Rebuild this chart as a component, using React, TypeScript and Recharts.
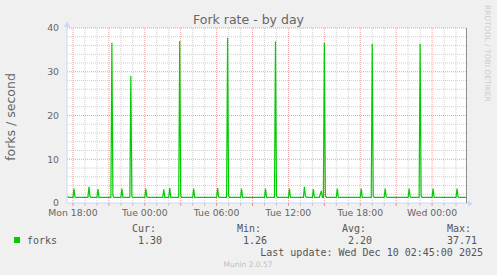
import React from "react";
import { LineChart, Line, XAxis, YAxis, CartesianGrid, ReferenceLine } from "recharts";

// time in minutes since Mon 00:00
const sampleMinutes = [
  1050, 1060, 1080, 1085, 1090, 1095, 1155, 1160, 1165, 1170, 1200, 1205, 1210,
  1270, 1275, 1280, 1285, 1320, 1325, 1330, 1365, 1370, 1375, 1380, 1440, 1445,
  1450, 1455, 1530, 1535, 1540, 1560, 1565, 1570, 1610, 1615, 1620, 1625, 1680,
  1685, 1690, 1800, 1805, 1810, 1815, 1850, 1855, 1860, 1865, 1920, 1925, 1930,
  2040, 2045, 2050, 2090, 2095, 2100, 2105, 2160, 2165, 2170, 2235, 2240, 2245,
  2250, 2280, 2285, 2290, 2315, 2320, 2325, 2330, 2335, 2340, 2345, 2350, 2400,
  2405, 2410, 2520, 2525, 2530, 2575, 2580, 2585, 2590, 2640, 2645, 2650, 2655,
  2760, 2765, 2770, 2775, 2815, 2820, 2825, 2830, 2880, 2885, 2890, 3000, 3005,
  3010, 3015, 3050,
];
const forkValues = [
  1.45, 1.3, 1.3, 3.3, 1.35, 1.3, 1.3, 3.7, 1.5, 1.3, 1.3, 3.2, 1.3,
  1.3, 36.6, 1.7, 1.3, 1.3, 3.3, 1.3, 1.3, 29.1, 1.6, 1.3, 1.3, 3.3,
  1.4, 1.3, 1.3, 3.1, 1.3, 1.3, 3.4, 1.3, 1.3, 37.0, 1.7, 1.3, 1.3,
  3.3, 1.3, 1.3, 3.4, 1.4, 1.3, 1.3, 37.7, 1.7, 1.3, 1.3, 3.3, 1.3,
  1.3, 3.3, 1.3, 1.3, 36.9, 1.7, 1.3, 1.3, 3.3, 1.3, 1.3, 3.7, 1.6,
  1.3, 1.3, 3.2, 1.3, 1.3, 2.0, 2.8, 1.3, 1.3, 36.6, 1.7, 1.3, 1.3,
  3.3, 1.3, 1.3, 3.3, 1.3, 1.3, 36.4, 1.7, 1.3, 1.3, 3.3, 1.4, 1.3,
  1.3, 3.3, 1.4, 1.3, 1.3, 36.4, 1.7, 1.3, 1.3, 3.3, 1.3, 1.3, 3.3,
  1.4, 1.3, 1.3,
];

const xLabelTicks = [1080, 1440, 1800, 2160, 2520, 2880];
const xLabelNames = ["Mon 18:00", "Tue 00:00", "Tue 06:00", "Tue 12:00", "Tue 18:00", "Wed 00:00"];
const majorXTicks = [1080, 1260, 1440, 1620, 1800, 1980, 2160, 2340, 2520, 2700, 2880];
const minorXTicks = [
  1080, 1140, 1200, 1260, 1320, 1380, 1440, 1500, 1560, 1620, 1680, 1740, 1800,
  1860, 1920, 1980, 2040, 2100, 2160, 2220, 2280, 2340, 2400, 2460, 2520, 2580,
  2640, 2700, 2760, 2820, 2880, 2940, 3000,
];
const yTicks = [0, 10, 20, 30, 40];
const minorYTicks = [2, 4, 6, 8, 12, 14, 16, 18, 22, 24, 26, 28, 32, 34, 36, 38];

const seriesName = "forks";
const statLabels = ["Cur:", "Min:", "Avg:", "Max:"];
const statValues = ["1.30", "1.26", "2.20", "37.71"];
const titleText = "Fork rate - by day";
const yAxisLabel = "forks / second";
const lastUpdate = "Last update: Wed Dec 10 02:45:00 2025";
const footer = "Munin 2.0.57";
const watermark = "RRDTOOL / TOBI OETIKER";

const data = sampleMinutes.map((t, i) => ({ t, forks: forkValues[i] }));

const SANS = "'DejaVu Sans', sans-serif";
const MONO = "'DejaVu Sans Mono', monospace";
const GREEN = "#00cc00";
const AXIS = "#CFD6F8";
const FONT = "#666666";
const MINOR = "#d0d0d0";
const MAJOR = "#e6a0a0";

const statX = [132, 237, 342, 447];
const valX = [138, 243, 348, 447];

export default function App() {
  return (
    <div style={{ position: "absolute", left: 0, top: 0, width: 497, height: 275, background: "#f0f0f0" }}>
      <LineChart width={497} height={275} data={data} margin={{ top: 28, right: 31, bottom: 42, left: 0 }}>
        <CartesianGrid fill="#ffffff" stroke="none" horizontal={false} vertical={false} />
        <XAxis
          dataKey="t"
          type="number"
          domain={[1050, 3050]}
          ticks={xLabelTicks}
          tickFormatter={(v: number) => xLabelNames[xLabelTicks.indexOf(v)] ?? ""}
          height={30}
          tickSize={0}
          tickMargin={6.4}
          tickLine={false}
          axisLine={{ stroke: AXIS }}
          tick={{ fontSize: 9.3, fill: FONT, fontFamily: SANS }}
          allowDataOverflow
        />
        <YAxis
          type="number"
          domain={[0, 40]}
          ticks={yTicks}
          width={67}
          tickSize={0}
          tickMargin={8}
          tickLine={false}
          axisLine={{ stroke: AXIS }}
          tick={{ fontSize: 9.3, fill: FONT, fontFamily: SANS }}
          allowDataOverflow
        />
        {minorXTicks
          .filter((m) => !majorXTicks.includes(m))
          .map((m) => (
            <ReferenceLine key={"gx" + m} x={m} stroke={MINOR} strokeDasharray="1 1" />
          ))}
        {minorYTicks.map((v) => (
          <ReferenceLine key={"gy" + v} y={v} stroke={MINOR} strokeDasharray="1 1" />
        ))}
        {majorXTicks.map((m) => (
          <ReferenceLine key={"Mx" + m} x={m} stroke={MAJOR} strokeDasharray="1 1" />
        ))}
        {yTicks
          .filter((v) => v > 0)
          .map((v) => (
            <ReferenceLine key={"My" + v} y={v} stroke={MAJOR} strokeDasharray="1 1" />
          ))}
        {minorXTicks.map((m) => (
          <ReferenceLine
            key={"mt" + m}
            segment={[{ x: m, y: 0 }, { x: m, y: -0.6 }]}
            stroke={majorXTicks.includes(m) ? "#e08080" : "#bbbbbb"}
            ifOverflow="visible"
          />
        ))}
        <Line
          type="linear"
          dataKey="forks"
          stroke={GREEN}
          strokeWidth={1.2}
          dot={false}
          isAnimationActive={false}
        />
      </LineChart>
      <svg width={497} height={275} style={{ position: "absolute", left: 0, top: 0, pointerEvents: "none" }}>
        <text x={248.5} y={23.5} textAnchor="middle" fontFamily={SANS} fontSize={12.5} fill={FONT}>
          {titleText}
        </text>
        <text
          transform="translate(15,117) rotate(-90)"
          textAnchor="middle"
          fontFamily={SANS}
          fontSize={12.5}
          fill={FONT}
        >
          {yAxisLabel}
        </text>
        <text transform="translate(485,5) rotate(90)" fontFamily={SANS} fontSize={7.5} fill="#cccccc">
          {watermark}
        </text>
        <line x1={466.5} y1={28} x2={466.5} y2={203} stroke="#909090" strokeWidth={1} />
        <line x1={466} y1={203.5} x2={469} y2={203.5} stroke={AXIS} />
        <polygon points="468,200.5 473,203.5 468,206.5" fill={AXIS} />
        <polygon points="64,27 67,21 70,27" fill={AXIS} />
        <rect x={14} y={237} width={6} height={6} fill={GREEN} />
        <text x={27} y={243.5} fontFamily={MONO} fontSize={10} fill="#555">
          {seriesName}
        </text>
        {statLabels.map((s, i) => (
          <text key={s} x={statX[i]} y={231.5} fontFamily={MONO} fontSize={10} fill="#555">
            {s}
          </text>
        ))}
        {statValues.map((s, i) => (
          <text key={"v" + i} x={valX[i]} y={243.5} fontFamily={MONO} fontSize={10} fill="#555">
            {s}
          </text>
        ))}
        <text x={483} y={255.5} textAnchor="end" fontFamily={MONO} fontSize={10} fill="#555">
          {lastUpdate}
        </text>
        <text x={248} y={266.5} textAnchor="middle" fontFamily={SANS} fontSize={7.5} fill="#c0c0c0">
          {footer}
        </text>
      </svg>
    </div>
  );
}
